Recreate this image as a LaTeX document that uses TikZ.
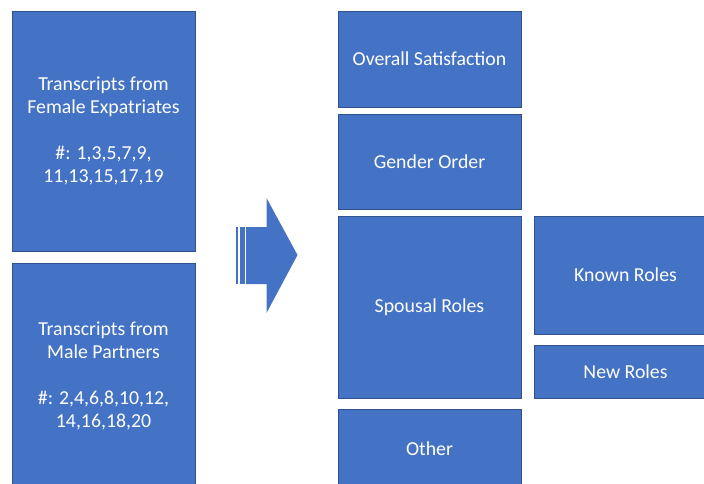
\documentclass[tikz,border=0pt]{standalone}
\usepackage{fontspec}
\setmainfont{Carlito}
\definecolor{boxblue}{HTML}{4472C4}
\definecolor{boxedge}{HTML}{2F528F}

\begin{document}
\begin{tikzpicture}[x=1pt,y=-1pt,
    card/.style={draw=boxedge, line width=0.6pt, fill=boxblue, text=white,
      inner sep=0pt, outer sep=0pt, minimum width=183pt, align=center,
      font=\fontsize{19.8}{23}\selectfont}]
  \useasboundingbox (0,0) rectangle (704,484);

  % Draw the two transcript boxes on the left
  \node[card, minimum height=240pt] (female) at (103.5,131)
    {Transcripts from\\Female Expatriates\\[23pt]\#: 1,3,5,7,9,\\11,13,15,17,19};
  \node[card, minimum height=225pt] (male) at (103.5,375.5)
    {Transcripts from\\Male Partners\\[23pt]\#: 2,4,6,8,10,12,\\14,16,18,20};

  % Draw the striped block arrow
  \fill[boxblue] (236,227) rectangle (238,284);
  \fill[boxblue] (239.5,227) rectangle (244.5,284);
  \fill[boxblue] (246,227) -- (266.5,227) -- (266.5,198) -- (297.5,255)
    -- (266.5,313) -- (266.5,284) -- (246,284) -- cycle;

  % Draw the category boxes on the right
  \node[card, minimum height=96pt] (overall) at (429.5,59) {Overall Satisfaction};
  \node[card, minimum height=95pt] (gender) at (429.5,161.5) {Gender Order};
  \node[card, minimum height=182pt] (spousal) at (429.5,307) {Spousal Roles};
  \node[card, minimum height=79pt] (other) at (429.5,448.5) {Other};

  % Draw the sub-categories of spousal roles
  \node[card, minimum height=118pt] (known) at (625.5,275) {Known Roles};
  \node[card, minimum height=53pt] (new) at (625.5,371.5) {New Roles};
\end{tikzpicture}
\end{document}
